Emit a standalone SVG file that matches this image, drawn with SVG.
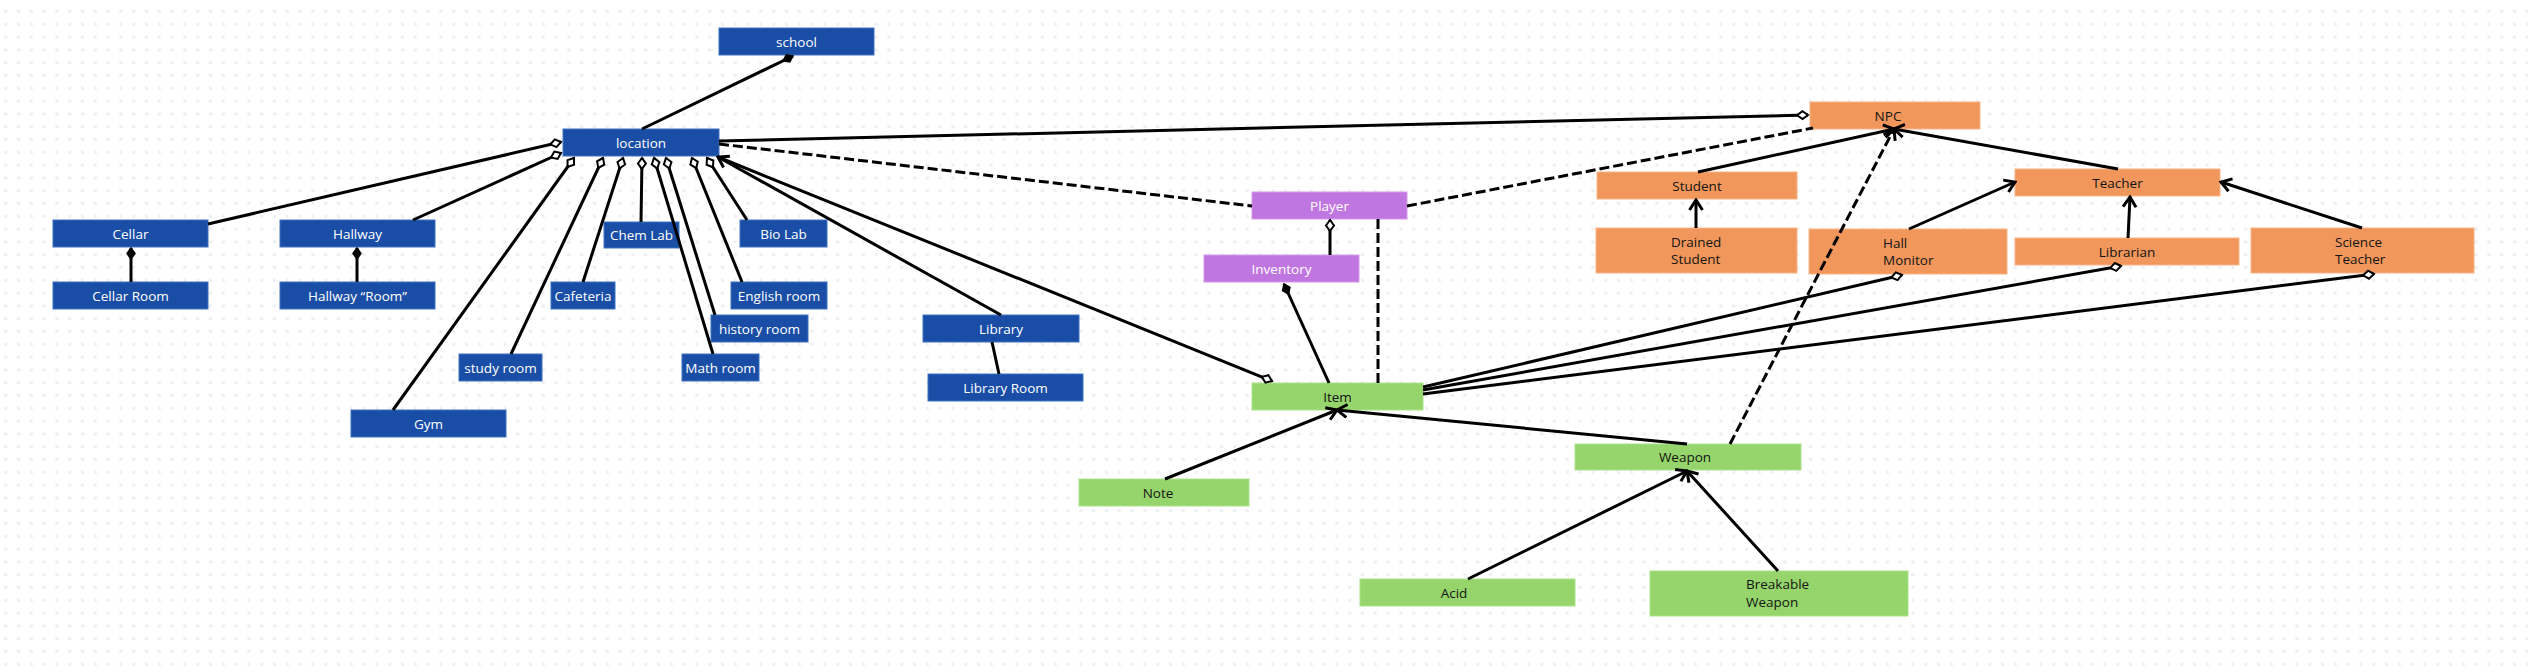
<svg xmlns="http://www.w3.org/2000/svg" width="2528" height="672" viewBox="0 0 2528 672">
<style>
.n rect{stroke-width:1}
.blue rect{fill:#1a4ea6;stroke:#3f72c4}
.orange rect{fill:#f1975b;stroke:#f7b488}
.purple rect{fill:#c076e0;stroke:#d49ae9}
.green rect{fill:#95d56b;stroke:#aee28b}
.n text{font-family:"Open Sans","Liberation Sans",sans-serif;font-size:13.5px}
.blue text,.purple text{fill:#ffffff}
.orange text,.green text{fill:#141414}
.c{text-anchor:middle;dominant-baseline:central}
#connectors line{stroke:#000;stroke-width:3;fill:none}
#connectors line.d{stroke-dasharray:10 4}
</style>
<defs>
<pattern id="dots" x="-0.7" y="5.1" width="12.8" height="12.8" patternUnits="userSpaceOnUse">
<circle cx="6.4" cy="6.4" r="1.7" fill="#eceef3"/>
</pattern>
<marker id="od" viewBox="-14 -7 16 14" refX="0" refY="0" markerWidth="16" markerHeight="14" markerUnits="userSpaceOnUse" orient="auto">
<path d="M0,0 L-5.5,-4 L-11,0 L-5.5,4 Z" fill="#fff" stroke="#000" stroke-width="2"/>
</marker>
<marker id="fd" viewBox="-14 -7 16 14" refX="0" refY="0" markerWidth="16" markerHeight="14" markerUnits="userSpaceOnUse" orient="auto">
<path d="M0,0 L-5.5,-4 L-11,0 L-5.5,4 Z" fill="#000" stroke="#000" stroke-width="1.5"/>
</marker>
<marker id="ar" viewBox="-14 -9 16 18" refX="0" refY="0" markerWidth="16" markerHeight="18" markerUnits="userSpaceOnUse" orient="auto">
<path d="M-10,-6.5 L0,0 L-10,6.5" fill="none" stroke="#000" stroke-width="3" stroke-linejoin="miter"/>
</marker>
</defs>
<rect width="2528" height="672" fill="#ffffff"/>
<rect width="2528" height="672" fill="url(#dots)"/>

<g id="nodes">
<g id="school" class="n blue"><rect x="719" y="28" width="155" height="27"/><text class="c" x="796.5" y="41.5">school</text></g>
<g id="location" class="n blue"><rect x="563" y="129" width="156" height="27"/><text class="c" x="641" y="142.5">location</text></g>
<g id="cellar" class="n blue"><rect x="53" y="220" width="155" height="27"/><text class="c" x="130.5" y="233.5">Cellar</text></g>
<g id="cellar-room" class="n blue"><rect x="53" y="282" width="155" height="27"/><text class="c" x="130.5" y="295.5">Cellar Room</text></g>
<g id="hallway" class="n blue"><rect x="280" y="220" width="155" height="27"/><text class="c" x="357.5" y="233.5">Hallway</text></g>
<g id="hallway-room" class="n blue"><rect x="280" y="282" width="155" height="27"/><text class="c" x="357.5" y="295.5">Hallway “Room”</text></g>
<g id="chem-lab" class="n blue"><rect x="604" y="222" width="75" height="26"/><text class="c" x="641.5" y="235">Chem Lab</text></g>
<g id="bio-lab" class="n blue"><rect x="740" y="220" width="87" height="27"/><text class="c" x="783.5" y="233.5">Bio Lab</text></g>
<g id="cafeteria" class="n blue"><rect x="551" y="282" width="64" height="27"/><text class="c" x="583" y="295.5">Cafeteria</text></g>
<g id="english-room" class="n blue"><rect x="731" y="282" width="96" height="27"/><text class="c" x="779" y="295.5">English room</text></g>
<g id="history-room" class="n blue"><rect x="711" y="315" width="97" height="27"/><text class="c" x="759.5" y="328.5">history room</text></g>
<g id="study-room" class="n blue"><rect x="459" y="354" width="83" height="27"/><text class="c" x="500.5" y="367.5">study room</text></g>
<g id="math-room" class="n blue"><rect x="682" y="354" width="77" height="27"/><text class="c" x="720.5" y="367.5">Math room</text></g>
<g id="gym" class="n blue"><rect x="351" y="410" width="155" height="27"/><text class="c" x="428.5" y="423.5">Gym</text></g>
<g id="library" class="n blue"><rect x="923" y="315" width="156" height="27"/><text class="c" x="1001" y="328.5">Library</text></g>
<g id="library-room" class="n blue"><rect x="928" y="374" width="155" height="27"/><text class="c" x="1005.5" y="387.5">Library Room</text></g>
<g id="player" class="n purple"><rect x="1252" y="192" width="155" height="27"/><text class="c" x="1329.5" y="205.5">Player</text></g>
<g id="inventory" class="n purple"><rect x="1204" y="255" width="155" height="27"/><text class="c" x="1281.5" y="268.5">Inventory</text></g>
<g id="item" class="n green"><rect x="1252" y="383" width="171" height="27"/><text class="c" x="1337.5" y="396.5">Item</text></g>
<g id="note" class="n green"><rect x="1079" y="479" width="170" height="27"/><text class="c" x="1158" y="492.5">Note</text></g>
<g id="weapon" class="n green"><rect x="1575" y="444" width="226" height="26"/><text class="c" x="1685" y="457">Weapon</text></g>
<g id="acid" class="n green"><rect x="1360" y="579" width="215" height="27"/><text class="c" x="1454" y="592.5">Acid</text></g>
<g id="breakable-weapon" class="n green"><rect x="1650" y="571" width="258" height="45"/><text x="1746" y="589">Breakable</text><text x="1746" y="607">Weapon</text></g>
<g id="npc" class="n orange"><rect x="1810" y="102" width="170" height="27"/><text class="c" x="1888" y="115.5">NPC</text></g>
<g id="student" class="n orange"><rect x="1597" y="172" width="200" height="27"/><text class="c" x="1697" y="185.5">Student</text></g>
<g id="drained-student" class="n orange"><rect x="1596" y="228" width="201" height="45"/><text x="1671" y="247">Drained</text><text x="1671" y="264">Student</text></g>
<g id="hall-monitor" class="n orange"><rect x="1809" y="229" width="198" height="45"/><text x="1883" y="248">Hall</text><text x="1883" y="265">Monitor</text></g>
<g id="teacher" class="n orange"><rect x="2015" y="169" width="205" height="27"/><text class="c" x="2117.5" y="182.5">Teacher</text></g>
<g id="librarian" class="n orange"><rect x="2015" y="238" width="224" height="27"/><text class="c" x="2127" y="251.5">Librarian</text></g>
<g id="science-teacher" class="n orange"><rect x="2251" y="228" width="223" height="45"/><text x="2335" y="247">Science</text><text x="2335" y="264">Teacher</text></g>
</g>

<g id="connectors">
<line x1="642" y1="129" x2="793" y2="56" marker-end="url(#fd)"/>
<line x1="208" y1="224" x2="561" y2="142" marker-end="url(#od)"/>
<line x1="413" y1="220" x2="561" y2="153" marker-end="url(#od)"/>
<line x1="131" y1="282" x2="131" y2="248" marker-end="url(#fd)"/>
<line x1="357" y1="282" x2="357" y2="248" marker-end="url(#fd)"/>
<line x1="393" y1="410" x2="574" y2="158" marker-end="url(#od)"/>
<line x1="511" y1="354" x2="603" y2="158" marker-end="url(#od)"/>
<line x1="583" y1="282" x2="623" y2="158" marker-end="url(#od)"/>
<line x1="641" y1="222" x2="642" y2="158" marker-end="url(#od)"/>
<line x1="713" y1="354" x2="654" y2="158" marker-end="url(#od)"/>
<line x1="715" y1="315" x2="666" y2="158" marker-end="url(#od)"/>
<line x1="742" y1="282" x2="692" y2="158" marker-end="url(#od)"/>
<line x1="747" y1="220" x2="707" y2="158" marker-end="url(#od)"/>
<line x1="1001" y1="315" x2="718" y2="157" marker-end="url(#ar)"/>
<line x1="718" y1="157" x2="1272" y2="381" marker-end="url(#od)"/>
<line x1="992" y1="342" x2="999" y2="374"/>
<line x1="719" y1="141" x2="1808" y2="115" marker-end="url(#od)"/>
<line class="d" x1="719" y1="144" x2="1252" y2="206"/>
<line class="d" x1="1407" y1="206" x2="1813" y2="128"/>
<line class="d" x1="1378" y1="219" x2="1378" y2="383"/>
<line x1="1330" y1="255" x2="1330" y2="220" marker-end="url(#od)"/>
<line x1="1329" y1="383" x2="1284" y2="284" marker-end="url(#fd)"/>
<line x1="1165" y1="479" x2="1337" y2="410" marker-end="url(#ar)"/>
<line x1="1687" y1="444" x2="1337" y2="410" marker-end="url(#ar)"/>
<line class="d" x1="1730" y1="444" x2="1894" y2="129" marker-end="url(#ar)"/>
<line x1="1468" y1="579" x2="1687" y2="471" marker-end="url(#ar)"/>
<line x1="1778" y1="571" x2="1687" y2="471" marker-end="url(#ar)"/>
<line x1="1423" y1="387" x2="1902" y2="275" marker-end="url(#od)"/>
<line x1="1423" y1="390" x2="2121" y2="266" marker-end="url(#od)"/>
<line x1="1423" y1="394" x2="2374" y2="274" marker-end="url(#od)"/>
<line x1="1698" y1="172" x2="1894" y2="129" marker-end="url(#ar)"/>
<line x1="2118" y1="169" x2="1894" y2="129" marker-end="url(#ar)"/>
<line x1="1696" y1="228" x2="1696" y2="200" marker-end="url(#ar)"/>
<line x1="1909" y1="229" x2="2015" y2="182" marker-end="url(#ar)"/>
<line x1="2128" y1="238" x2="2130" y2="197" marker-end="url(#ar)"/>
<line x1="2362" y1="228" x2="2221" y2="182" marker-end="url(#ar)"/>
</g>
</svg>
